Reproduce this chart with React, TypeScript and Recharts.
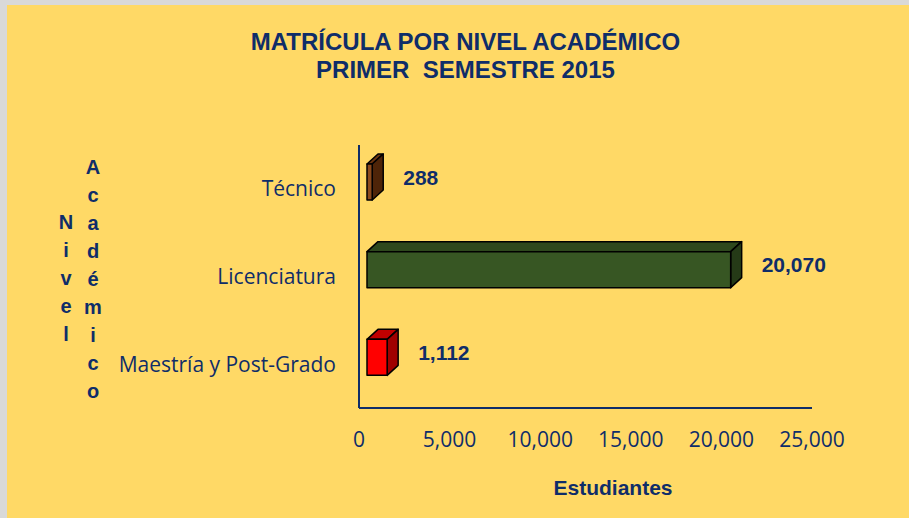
import React from "react"
import { BarChart, Bar, XAxis, YAxis, Cell, LabelList } from "recharts"

const categories = ["Técnico", "Licenciatura", "Maestría y Post-Grado"]
const students = [288, 20070, 1112]
const xTicks = [0, 5000, 10000, 15000, 20000, 25000]

const data = categories.map((name, i) => ({ name, value: students[i] }))

// front / top / side colours for each category
const frontColors = ["#8B4A1C", "#375623", "#FF0000"]
const topColors = ["#6B3410", "#2E481D", "#C00000"]
const sideColors = ["#4E2408", "#253A17", "#A00000"]

const NAVY = "#0F2D69"
const BG = "#FFD966"
const SHIFT_X = 8
const SHIFT_Y = 7
const DX = 11
const DY = 10

const fmt = (v: number) => v.toLocaleString("en-US")

function Bar3D(props: any) {
  const { x, y, width, height, index } = props
  const fx = x + SHIFT_X
  const fy = y - SHIFT_Y
  const w = Math.max(width, 0)
  const h = height
  const stroke = { stroke: "#000", strokeWidth: 1.5, strokeLinejoin: "round" as const }
  return (
    <g>
      <polygon
        points={`${fx},${fy} ${fx + DX},${fy - DY} ${fx + w + DX},${fy - DY} ${fx + w},${fy}`}
        fill={topColors[index]}
        {...stroke}
      />
      <polygon
        points={`${fx + w},${fy} ${fx + w + DX},${fy - DY} ${fx + w + DX},${fy + h - DY} ${fx + w},${fy + h}`}
        fill={sideColors[index]}
        {...stroke}
      />
      <rect x={fx} y={fy} width={w} height={h} fill={frontColors[index]} {...stroke} />
    </g>
  )
}

function ValueLabel(props: any) {
  const { x, y, width, height, value } = props
  return (
    <text
      x={x + width + SHIFT_X + DX + 20}
      y={y + height / 2 - 12}
      dominantBaseline="central"
      fill={NAVY}
      fontFamily="Liberation Sans, Arial, sans-serif"
      fontWeight="bold"
      fontSize={21}
    >
      {fmt(value)}
    </text>
  )
}

const letterCol = (word: string, left: number, top: number) => (
  <div
    style={{
      position: "absolute",
      left: left - 15,
      top,
      width: 30,
      textAlign: "center",
      lineHeight: "28px",
      fontFamily: "Liberation Sans, Arial, sans-serif",
      fontWeight: "bold",
      fontSize: 20,
      color: NAVY,
    }}
  >
    {word.split("").map((c, i) => (
      <div key={i}>{c}</div>
    ))}
  </div>
)

export default function App() {
  return (
    <div
      style={{
        position: "fixed",
        left: 0,
        top: 0,
        width: 909,
        height: 518,
        background: "#D9D9D9",
      }}
    >
      <div
        style={{
          position: "absolute",
          left: 7,
          top: 5,
          width: 902,
          height: 513,
          background: BG,
        }}
      />
      <div
        style={{
          position: "absolute",
          left: 0,
          top: 28,
          width: 931,
          textAlign: "center",
          fontFamily: "Liberation Sans, Arial, sans-serif",
          fontWeight: "bold",
          fontSize: 24,
          lineHeight: "28px",
          color: NAVY,
          whiteSpace: "pre",
        }}
      >
        {"MATRÍCULA POR NIVEL ACADÉMICO\nPRIMER  SEMESTRE 2015"}
      </div>
      {letterCol("Nivel", 66, 208)}
      {letterCol("Académico", 93, 153)}
      <div
        style={{
          position: "absolute",
          left: 513,
          top: 476,
          width: 200,
          textAlign: "center",
          fontFamily: "Liberation Sans, Arial, sans-serif",
          fontWeight: "bold",
          fontSize: 21,
          color: NAVY,
        }}
      >
        Estudiantes
      </div>
      <div style={{ position: "absolute", left: 0, top: 0 }}>
        <BarChart
          width={909}
          height={518}
          data={data}
          layout="vertical"
          margin={{ top: 145, right: 97, bottom: 80, left: 0 }}
          barSize={36}
        >
          <XAxis
            type="number"
            domain={[0, 25000]}
            ticks={xTicks}
            tickFormatter={fmt}
            axisLine={{ stroke: NAVY, strokeWidth: 2 }}
            tickLine={false}
            tickMargin={18}
            tick={{ fill: NAVY, fontSize: 21, fontFamily: "Open Sans, sans-serif" }}
            interval={0}
          />
          <YAxis
            type="category"
            dataKey="name"
            width={359}
            axisLine={{ stroke: NAVY, strokeWidth: 2 }}
            tickLine={false}
            tickMargin={17}
            tick={{ fill: NAVY, fontSize: 21, fontFamily: "Open Sans, sans-serif" }}
          />
          <Bar dataKey="value" shape={<Bar3D />} isAnimationActive={false}>
            {data.map((d, i) => (
              <Cell key={d.name} fill={frontColors[i]} />
            ))}
            <LabelList dataKey="value" content={<ValueLabel />} />
          </Bar>
        </BarChart>
      </div>
    </div>
  )
}
